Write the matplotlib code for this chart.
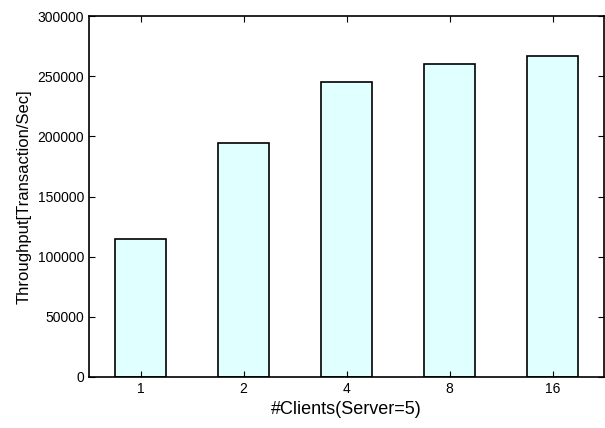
import matplotlib
matplotlib.use("Agg")
from matplotlib import pyplot as plt

clients = ["1", "2", "4", "8", "16"]
throughput = [114700, 194300, 245100, 260000, 266700]

plt.rcParams["font.family"] = ["Liberation Sans", "DejaVu Sans"]

fig = plt.figure(figsize=(6.05, 4.28), dpi=100)
ax = fig.add_axes([89 / 605, 1 - 377 / 428, 515 / 605, 361 / 428])
ax.bar(range(len(clients)), throughput, width=0.5, color="#e0ffff",
       edgecolor="black", linewidth=1.2)
ax.set_xlim(-0.5, len(clients) - 0.5)
ax.set_ylim(0, 300000)
ax.set_xticks(range(len(clients)))
ax.set_xticklabels(clients)
ax.set_yticks(range(0, 300001, 50000))
ax.tick_params(direction="in", top=True, right=True, labelsize=10, length=4)
for s in ax.spines.values():
    s.set_linewidth(1.2)
ax.set_xlabel("#Clients(Server=5)", fontsize=13)
ax.set_ylabel("Throughput[Transaction/Sec]", fontsize=12)
fig.savefig("out.png", dpi=100)
